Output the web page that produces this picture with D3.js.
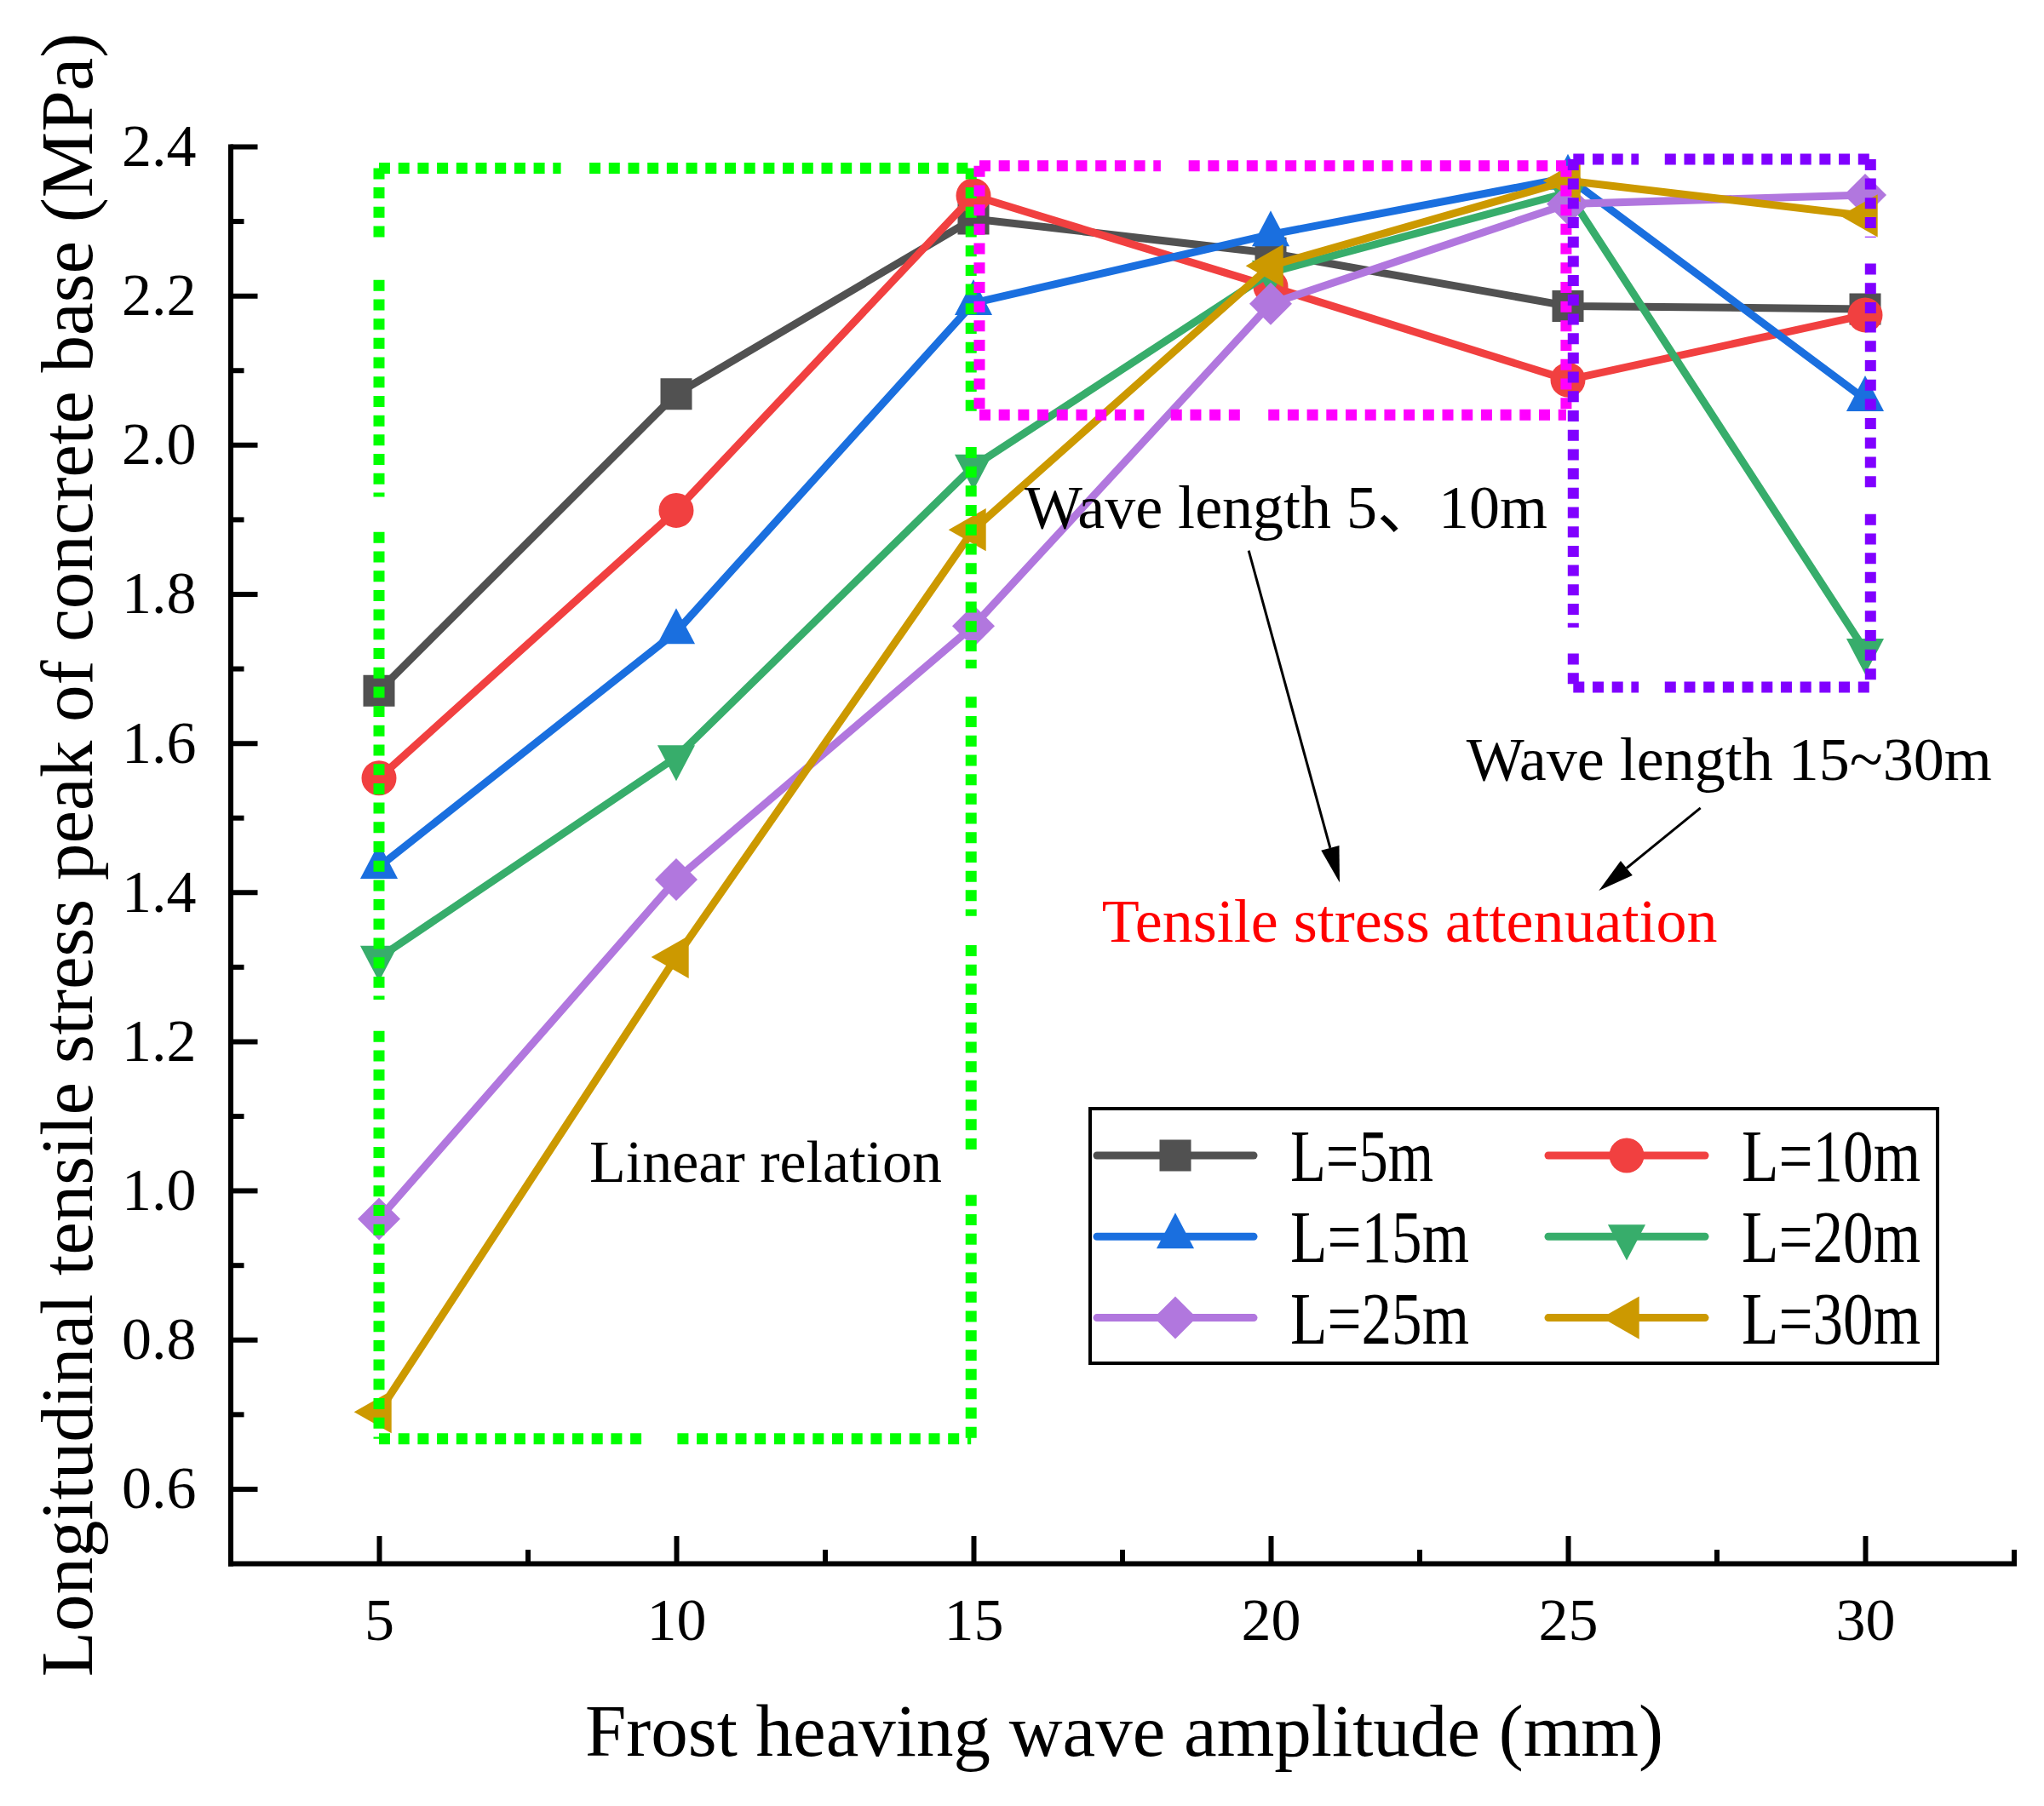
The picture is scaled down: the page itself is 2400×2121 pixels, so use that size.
<!DOCTYPE html>
<html>
<head>
<meta charset="utf-8">
<script src="https://cdn.jsdelivr.net/npm/d3@7"></script>
<style>body{margin:0;background:#fff}</style>
</head>
<body>
<script>
// frost heaving wave amplitude (mm)
var amplitude = [5, 10, 15, 20, 25, 30];
var seriesNames = ["L=5m", "L=10m", "L=15m", "L=20m", "L=25m", "L=30m"];
// longitudinal tensile stress peak (MPa), one array per wave length
var L5  = [1.670, 2.068, 2.303, 2.257, 2.186, 2.182];
var L10 = [1.553, 1.912, 2.334, 2.212, 2.087, 2.174];
var L15 = [1.434, 1.749, 2.190, 2.282, 2.358, 2.061];
var L20 = [1.312, 1.581, 1.971, 2.231, 2.338, 1.724];
var L25 = [0.962, 1.417, 1.757, 2.189, 2.323, 2.335];
var L30 = [0.703, 1.313, 1.886, 2.240, 2.354, 2.307];
var xTicks = [5, 10, 15, 20, 25, 30];
var xMinor = [7.5, 12.5, 17.5, 22.5, 27.5, 32.5];
var yTicks = [0.6, 0.8, 1.0, 1.2, 1.4, 1.6, 1.8, 2.0, 2.2, 2.4];
var yMinor = [0.7, 0.9, 1.1, 1.3, 1.5, 1.7, 1.9, 2.1, 2.3];

var colors = ["#515151", "#F14040", "#1A6FDF", "#37AD6B", "#B177DE", "#CC9900"];
var serif = "'Liberation Serif','Times New Roman','Noto Sans CJK SC',serif";

var W = 2400, H = 2121;
var svg = d3.select("body").append("svg")
  .attr("width", W).attr("height", H)
  .style("background", "#fff");

var x = d3.scaleLinear().domain([2.5, 32.5]).range([270.5, 2364.5]);
var y = d3.scaleLinear().domain([0.5, 2.4]).range([1836, 172]);

// markers
var symSquare = {draw: function(c, s) { c.rect(-s / 2, -s / 2, s, s); }};
var symCircle = {draw: function(c, s) { c.moveTo(s / 2, 0); c.arc(0, 0, s / 2, 0, 2 * Math.PI); }};
var symUp = {draw: function(c, s) { var w = s * 1.05; c.moveTo(0, -2 * s / 3); c.lineTo(w / 2, s / 3); c.lineTo(-w / 2, s / 3); c.closePath(); }};
var symDown = {draw: function(c, s) { var w = s * 1.05; c.moveTo(0, 2 * s / 3); c.lineTo(w / 2, -s / 3); c.lineTo(-w / 2, -s / 3); c.closePath(); }};
var symDiamond = {draw: function(c, s) { c.moveTo(0, -s / 2); c.lineTo(s / 2, 0); c.lineTo(0, s / 2); c.lineTo(-s / 2, 0); c.closePath(); }};
var symLeft = {draw: function(c, s) { var h = s * 1.14; c.moveTo(-2 * s / 3, 0); c.lineTo(s / 3, -h / 2); c.lineTo(s / 3, h / 2); c.closePath(); }};
var shapes = [symSquare, symCircle, symUp, symDown, symDiamond, symLeft];
var sizes = [37, 41, 42, 42, 50, 44];

// axes
function styleAxis(g) {
  g.attr("font-family", serif).attr("font-size", 70);
  g.selectAll(".tick line").attr("stroke", "#000").attr("stroke-width", 6);
  g.selectAll(".domain").attr("stroke", "#000").attr("stroke-width", 6).attr("stroke-linecap", "square");
  g.selectAll("text").attr("fill", "#000");
}

var gxMinor = svg.append("g").attr("transform", "translate(0," + y(0.5) + ")")
  .call(d3.axisBottom(x).tickValues(xMinor).tickSize(-16).tickSizeOuter(0).tickFormat(""));
gxMinor.select(".domain").remove();
styleAxis(gxMinor);
var gyMinor = svg.append("g").attr("transform", "translate(" + x(2.5) + ",0)")
  .call(d3.axisLeft(y).tickValues(yMinor).tickSize(-16).tickSizeOuter(0).tickFormat(""));
gyMinor.select(".domain").remove();
styleAxis(gyMinor);

var gx = svg.append("g").attr("transform", "translate(0," + y(0.5) + ")")
  .call(d3.axisBottom(x).tickValues(xTicks).tickSize(-32).tickSizeOuter(0).tickPadding(40).tickFormat(d3.format("d")));
styleAxis(gx);
var gy = svg.append("g").attr("transform", "translate(" + x(2.5) + ",0)")
  .call(d3.axisLeft(y).tickValues(yTicks).tickSize(-32).tickSizeOuter(0).tickPadding(40).tickFormat(d3.format(".1f")));
styleAxis(gy);

// axis titles
svg.append("text")
  .attr("x", 1320).attr("y", 2062)
  .attr("text-anchor", "middle")
  .attr("font-family", serif).attr("font-size", 87)
  .text("Frost heaving wave amplitude (mm)");
svg.append("text")
  .attr("transform", "translate(108,1004) rotate(-90)")
  .attr("text-anchor", "middle")
  .attr("font-family", serif).attr("font-size", 87)
  .text("Longitudinal tensile stress peak of concrete base (MPa)");

// series
var series = [L5, L10, L15, L20, L25, L30];
var line = d3.line().x(function(d, i) { return x(amplitude[i]); }).y(function(d) { return y(d); });
series.forEach(function(vals, k) {
  svg.append("path")
    .attr("d", line(vals))
    .attr("fill", "none")
    .attr("stroke", colors[k])
    .attr("stroke-width", 9)
    .attr("stroke-linejoin", "round");
  svg.append("g").selectAll("path").data(vals).enter().append("path")
    .attr("transform", function(d, i) { return "translate(" + x(amplitude[i]) + "," + y(d) + ")"; })
    .attr("d", d3.symbol().type(shapes[k]).size(sizes[k]))
    .attr("fill", colors[k]);
});

// dotted boxes (with the breaks seen in the original)
var greenBox = {x0: 5.0, x1: 14.96, y0: 0.667, y1: 2.371};
var greenGaps = [["top", 8.06, 8.54], ["left", 2.268, 2.221], ["left", 1.93, 1.883], ["left", 1.256, 1.214],
  ["right", 2.04, 1.997], ["right", 1.70, 1.662], ["right", 1.368, 1.329], ["right", 1.044, 0.994],
  ["bottom", 9.55, 10.02]];
var magentaBox = {x0: 15.1, x1: 24.97, y0: 2.04, y1: 2.374};
var magentaGaps = [["top", 18.15, 18.62], ["bottom", 17.87, 18.32], ["bottom", 19.51, 19.96]];
var purpleBox = {x0: 25.09, x1: 30.09, y0: 1.675, y1: 2.383};
var purpleGaps = [["top", 26.19, 26.63], ["bottom", 26.19, 26.63], ["right", 2.278, 2.243],
  ["right", 1.942, 1.907], ["left", 1.755, 1.72]];

function dottedBox(b, color, gaps) {
  var g = svg.append("g");
  var edges = {
    top: {fixed: b.y1, from: b.x0, to: b.x1, horiz: true},
    bottom: {fixed: b.y0, from: b.x0, to: b.x1, horiz: true},
    left: {fixed: b.x0, from: b.y1, to: b.y0, horiz: false},
    right: {fixed: b.x1, from: b.y1, to: b.y0, horiz: false}
  };
  Object.keys(edges).forEach(function(k) {
    var e = edges[k];
    var cuts = gaps.filter(function(q) { return q[0] === k; });
    var start = e.from, segs = [];
    cuts.forEach(function(c) { segs.push([start, c[1]]); start = c[2]; });
    segs.push([start, e.to]);
    segs.forEach(function(s) {
      var p = e.horiz ? [x(s[0]), y(e.fixed), x(s[1]), y(e.fixed)]
                      : [x(e.fixed), y(s[0]), x(e.fixed), y(s[1])];
      g.append("line")
        .attr("x1", p[0]).attr("y1", p[1]).attr("x2", p[2]).attr("y2", p[3])
        .attr("stroke", color).attr("stroke-width", 13)
        .attr("stroke-dasharray", "13 9.7");
    });
  });
}
dottedBox(greenBox, "#00FF00", greenGaps);
dottedBox(magentaBox, "#FF00FF", magentaGaps);
dottedBox(purpleBox, "#8000FF", purpleGaps);

// annotations
var notes = [
  {text: "Linear relation", x: 8.54, y: 1.011, color: "#000", size: 70},
  {text: "Wave length 5、10m", x: 15.86, y: 1.888, color: "#000", size: 72},
  {text: "Wave length 15~30m", x: 23.29, y: 1.551, color: "#000", size: 72},
  {text: "Tensile stress attenuation", x: 17.16, y: 1.334, color: "#FF0000", size: 72}
];
notes.forEach(function(n) {
  svg.append("text")
    .attr("x", x(n.x)).attr("y", y(n.y))
    .attr("font-family", serif).attr("font-size", n.size)
    .attr("fill", n.color)
    .text(n.text);
});

var arrows = [
  {from: [19.63, 1.858], to: [21.16, 1.413]},
  {from: [27.23, 1.513], to: [25.52, 1.402]}
];
arrows.forEach(function(a) {
  var x1 = x(a.from[0]), y1 = y(a.from[1]), x2 = x(a.to[0]), y2 = y(a.to[1]);
  var ang = Math.atan2(y2 - y1, x2 - x1);
  var len = 42, hw = 11;
  var bx = x2 - len * Math.cos(ang), by = y2 - len * Math.sin(ang);
  svg.append("line")
    .attr("x1", x1).attr("y1", y1).attr("x2", bx).attr("y2", by)
    .attr("stroke", "#000").attr("stroke-width", 3);
  var px = -Math.sin(ang) * hw, py = Math.cos(ang) * hw;
  svg.append("path")
    .attr("d", "M" + x2 + "," + y2 + "L" + (bx + px) + "," + (by + py) + "L" + (bx - px) + "," + (by - py) + "Z")
    .attr("fill", "#000");
});

// legend
var lg = svg.append("g");
lg.append("rect")
  .attr("x", 1280).attr("y", 1302).attr("width", 995).attr("height", 299)
  .attr("fill", "#fff").attr("stroke", "#000").attr("stroke-width", 4);
seriesNames.forEach(function(name, k) {
  var col = k % 2, row = Math.floor(k / 2);
  var dx = col * 530, cy = 1357 + row * 95.3;
  lg.append("line")
    .attr("x1", 1288 + dx).attr("x2", 1472 + dx).attr("y1", cy).attr("y2", cy)
    .attr("stroke", colors[k]).attr("stroke-width", 9).attr("stroke-linecap", "round");
  lg.append("path")
    .attr("transform", "translate(" + (1380 + dx) + "," + cy + ")")
    .attr("d", d3.symbol().type(shapes[k]).size(sizes[k]))
    .attr("fill", colors[k]);
  lg.append("text")
    .attr("x", 1515 + dx).attr("y", cy + 30)
    .attr("font-family", serif).attr("font-size", 86)
    .attr("textLength", name.length * 42).attr("lengthAdjust", "spacingAndGlyphs")
    .text(name);
});
</script>
</body>
</html>
